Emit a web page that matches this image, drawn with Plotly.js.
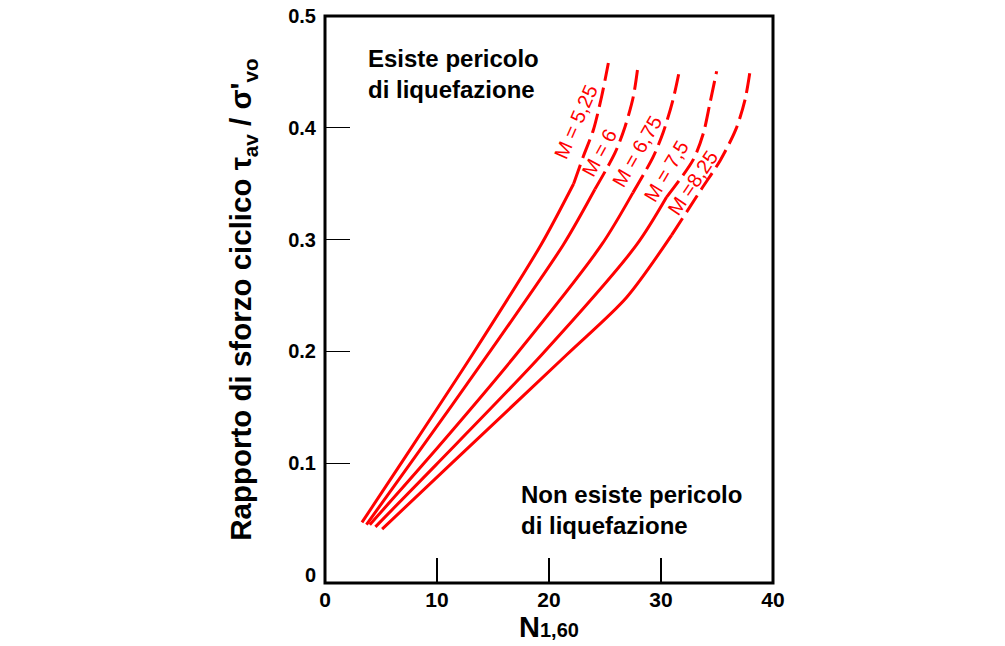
<!DOCTYPE html>
<html>
<head>
<meta charset="utf-8">
<script src="https://cdn.plot.ly/plotly-3.0.1.min.js"></script>
<style>html,body{margin:0;padding:0;background:#fff;}#chart{width:1005px;height:646px;}</style>
</head>
<body>
<div id="chart"></div>
<script>
// Magnitudes
const magnitudes = ['M = 5,25', 'M = 6', 'M = 6,75', 'M = 7,5', 'M =8,25'];

// Solid (lower) and dashed (upper) parts of the curves: N1,60 and stress ratio
const m525SolidX = [3.3, 6.7, 13.15, 19.29, 22.2];
const m525SolidY = [0.047, 0.0985, 0.197, 0.2954, 0.350];
const m525DashX  = [22.2, 23.07, 23.96, 24.7, 25.3];
const m525DashY  = [0.350, 0.3745, 0.398, 0.428, 0.458];

const m6SolidX = [3.7, 7.53, 14.53, 21.28, 24.1];
const m6SolidY = [0.045, 0.0985, 0.197, 0.2954, 0.345];
const m6DashX  = [24.1, 25.89, 26.79, 27.53, 27.98];
const m6DashY  = [0.345, 0.3775, 0.401, 0.428, 0.458];

const m675SolidX = [4.0, 8.72, 17.05, 24.7, 27.5];
const m675SolidY = [0.045, 0.0985, 0.197, 0.2954, 0.342];
const m675DashX  = [27.5, 29.3, 30.2, 31.07, 31.7];
const m675DashY  = [0.342, 0.374, 0.396, 0.425, 0.454];

const m75SolidX = [4.5, 9.91, 19.35, 27.83, 30.5];
const m75SolidY = [0.043, 0.0985, 0.197, 0.2954, 0.338];
const m75DashX  = [30.5, 32.88, 33.78, 34.37, 34.97];
const m75DashY  = [0.338, 0.3715, 0.395, 0.422, 0.4506];

const m825SolidX = [5.1, 11.16, 21.58, 26.9, 30.95];
const m825SolidY = [0.041, 0.0985, 0.197, 0.248, 0.304];
const m825DashX  = [30.95, 33.6, 35.3, 36.7, 37.5, 37.95];
const m825DashY  = [0.304, 0.345, 0.371, 0.399, 0.425, 0.4506];

// Label positions (x, y) and angles for the magnitude labels
const labelX = [22.4, 24.55, 27.9, 30.5, 32.8];
const labelY = [0.405, 0.378, 0.379, 0.361, 0.351];
const labelAngle = [-66, -61, -60, -59, -56];

// Axis ticks
const xTicks = [0, 10, 20, 30, 40];
const yTicks = [0, 0.1, 0.2, 0.3, 0.4, 0.5];
const yTickText = ['0', '0.1', '0.2', '0.3', '0.4', '0.5'];
const yInnerTicks = [0.1, 0.2, 0.3, 0.4];

const RED = '#ff0000';
const FONT = 'Liberation Sans, Arial, sans-serif';

const solids = [[m525SolidX, m525SolidY], [m6SolidX, m6SolidY], [m675SolidX, m675SolidY], [m75SolidX, m75SolidY], [m825SolidX, m825SolidY]];
const dashes = [[m525DashX, m525DashY], [m6DashX, m6DashY], [m675DashX, m675DashY], [m75DashX, m75DashY], [m825DashX, m825DashY]];

const traces = [];
solids.forEach((s, i) => {
  traces.push({x: s[0], y: s[1], mode: 'lines', name: magnitudes[i], showlegend: false, hoverinfo: 'skip',
    line: {color: RED, width: 3, shape: 'spline', smoothing: 0.8}});
});
dashes.forEach((d, i) => {
  traces.push({x: d[0], y: d[1], mode: 'lines', name: magnitudes[i], showlegend: false, hoverinfo: 'skip',
    line: {color: RED, width: 3, shape: 'spline', smoothing: 0.8, dash: '20px,7px'}});
});
traces.push({x: [], y: [], yaxis: 'y2', showlegend: false, hoverinfo: 'skip'});

const annotations = magnitudes.map((m, i) => ({
  x: labelX[i], y: labelY[i], xref: 'x', yref: 'y', text: m, showarrow: false,
  textangle: labelAngle[i], xanchor: 'center', yanchor: 'middle',
  font: {family: FONT, size: 20, color: RED}
}));
annotations.push({
  xref: 'paper', yref: 'paper', x: 0.092, y: (583 - 43) / 567, xanchor: 'left', yanchor: 'top',
  align: 'left', showarrow: false, text: 'Esiste pericolo<br>di liquefazione',
  font: {family: FONT, size: 24, color: '#000', weight: 'bold'}
});
annotations.push({
  xref: 'paper', yref: 'paper', x: 0.432, y: (583 - 479) / 567, xanchor: 'left', yanchor: 'top',
  align: 'left', showarrow: false, text: 'Non esiste pericolo<br>di liquefazione',
  font: {family: FONT, size: 24, color: '#000', weight: 'bold'}
});

const layout = {
  width: 1005, height: 646,
  margin: {l: 325, r: 232, t: 16, b: 63, pad: 0},
  paper_bgcolor: '#fff', plot_bgcolor: '#fff',
  showlegend: false,
  xaxis: {
    range: [0, 40], tickvals: xTicks, ticktext: xTicks.map(String),
    ticks: 'inside', ticklen: 25, tickwidth: 1.2, tickcolor: '#000',
    showgrid: false, zeroline: false, showline: false,
    tickfont: {family: FONT, size: 21, color: '#000', weight: 'bold'},
    ticklabelstandoff: 2,
    title: {text: 'N<span style="font-size:20px">1,60</span>', standoff: 4,
      font: {family: FONT, size: 29, color: '#000', weight: 'bold'}}
  },
  yaxis: {
    range: [-0.0072, 0.5], tickvals: yTicks, ticktext: yTickText,
    ticks: '', showgrid: false, zeroline: false, showline: false,
    tickfont: {family: FONT, size: 20, color: '#000', weight: 'bold'},
    ticklabelstandoff: 8,
    title: {text: 'Rapporto di sforzo ciclico τ<sub>av</sub> / σ\'<sub>vo</sub>', standoff: 27,
      font: {family: FONT, size: 29.5, color: '#000', weight: 'bold'}}
  },
  yaxis2: {
    range: [-0.0072, 0.5], overlaying: 'y', side: 'left', tickvals: yInnerTicks,
    ticks: 'inside', ticklen: 25, tickwidth: 1.2, tickcolor: '#000',
    showticklabels: false, showgrid: false, zeroline: false, showline: false
  },
  shapes: [{type: 'rect', xref: 'paper', yref: 'paper', x0: 0, x1: 1, y0: 0, y1: 1,
    line: {color: '#000', width: 3}, fillcolor: 'rgba(0,0,0,0)', layer: 'above'}],
  annotations: annotations
};

Plotly.newPlot('chart', traces, layout, {staticPlot: true, displayModeBar: false});
</script>
</body>
</html>
